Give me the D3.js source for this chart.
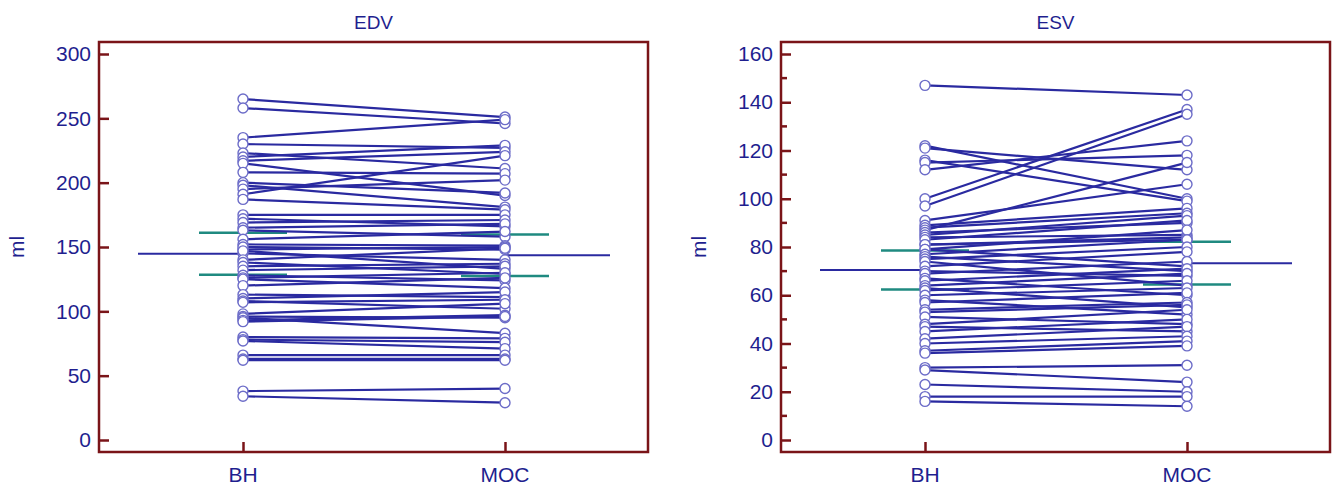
<!DOCTYPE html>
<meta charset="utf-8" />
<script src="https://d3js.org/d3.v7.min.js"></script>
<style>
  body { margin: 0; background: #fff; }
  text { font-family: "Liberation Sans", Arial, sans-serif; fill: #1f1f8f; }
</style>
<div id="chart"></div>
<script>
  // methods compared on the x axis
  const methods = ["BH", "MOC"];

  // end-diastolic volume (ml), one entry per subject
  const edvBH = [265, 258, 235, 230, 223, 220, 217, 215, 208, 200, 198, 195, 191, 187, 175, 172, 169, 165, 163, 156,
    152, 148, 145, 150, 147, 140, 138, 135, 132, 128, 126, 125, 120, 113, 110, 108, 107, 98, 96, 95,
    93, 92, 80, 78, 77, 66, 63, 62, 38, 34];
  const edvMOC = [251, 246, 249, 227, 211, 229, 224, 190, 207, 192, 181, 202, 221, 179, 175, 166, 171, 168, 158, 162,
    151, 150, 140, 148, 133, 149, 129, 137, 135, 124, 130, 118, 126, 111, 115, 102, 109, 106, 95, 83,
    97, 96, 79, 76, 71, 66, 63, 62, 40, 29];

  // end-systolic volume (ml)
  const esvBH = [147, 122, 121, 116, 115, 112, 100, 97, 91, 89, 88, 87, 86, 85, 84, 83, 81, 81, 79, 79,
    77, 76, 75, 74, 72, 70, 69, 67, 66, 64, 63, 62, 60, 58, 57, 54, 53, 51, 48, 47,
    45, 42, 40, 37, 36, 30, 29, 23, 18, 16];
  const esvMOC = [143, 100, 112, 99, 118, 124, 137, 135, 106, 96, 94, 115, 90, 93, 85, 91, 84, 83, 87, 72,
    83, 70, 80, 64, 78, 68, 74, 60, 71, 69, 55, 66, 63, 52, 61, 57, 56, 48, 54, 45,
    50, 47, 43, 41, 39, 31, 24, 20, 18, 14];

  // y axis ticks
  const edvTicks = [0, 50, 100, 150, 200, 250, 300];
  const esvTicks = [0, 20, 40, 60, 80, 100, 120, 140, 160];
  const esvMinor = [10, 30, 50, 70, 90, 110, 130, 150];

  const W = 1340, H = 489;
  const frameTop = 42, frameBottom = 452;
  const lineCol = "#2a2aa0", dotCol = "#6c6cc8", frameCol = "#7a1418", ciCol = "#1f8a80";

  const svg = d3.select("#chart").append("svg")
    .attr("width", W).attr("height", H);

  function panel(opts) {
    const g = svg.append("g");
    const x = d3.scalePoint().domain(methods).range([opts.left + 144, opts.right - 143]);
    const y = d3.scaleLinear().domain([0, opts.max]).range([440, 54]);

    // title and y label
    g.append("text").attr("x", (opts.left + opts.right) / 2).attr("y", 29)
      .attr("text-anchor", "middle").style("font-size", "19px").text(opts.title);
    g.append("text")
      .attr("transform", `translate(${opts.labelX},${(frameTop + frameBottom) / 2}) rotate(-90)`)
      .attr("text-anchor", "middle").style("font-size", "21px").text("ml");

    // y axis: ticks inside the frame
    const yAxis = g.append("g").attr("transform", `translate(${opts.left},0)`)
      .call(d3.axisRight(y).tickValues(opts.ticks).tickSize(10).tickFormat(d3.format("d")));
    yAxis.select(".domain").remove();
    yAxis.selectAll(".tick line").attr("stroke", frameCol).attr("stroke-width", 2.5);
    yAxis.selectAll(".tick text").attr("x", -8).attr("text-anchor", "end")
      .attr("fill", "#1f1f8f").style("font-size", "21px").style("font-family", "Liberation Sans, Arial, sans-serif");
    if (opts.minor) {
      g.append("g").selectAll("line").data(opts.minor).join("line")
        .attr("x1", opts.left).attr("x2", opts.left + 6)
        .attr("y1", d => y(d)).attr("y2", d => y(d))
        .attr("stroke", frameCol).attr("stroke-width", 2.5);
    }

    // x axis: ticks pointing up from bottom
    const xAxis = g.append("g").attr("transform", `translate(0,${frameBottom})`)
      .call(d3.axisTop(x).tickSize(10).tickFormat(""));
    xAxis.select(".domain").remove();
    xAxis.selectAll(".tick line").attr("stroke", frameCol).attr("stroke-width", 2.5);
    g.selectAll(".xlab").data(methods).join("text")
      .attr("x", d => x(d)).attr("y", 482).attr("text-anchor", "middle")
      .style("font-size", "21px").text(d => d);

    // mean and 95% CI for each method
    const sets = [opts.a, opts.b];
    sets.forEach((vals, i) => {
      const m = d3.mean(vals), sd = d3.deviation(vals);
      const half = 2.0096 * sd / Math.sqrt(vals.length);
      const cx = x(methods[i]);
      const dir = i === 0 ? -1 : 1;
      g.append("line").attr("x1", cx).attr("x2", cx)
        .attr("y1", y(m - half)).attr("y2", y(m + half))
        .attr("stroke", ciCol).attr("stroke-width", 2.5);
      [m - half, m + half].forEach(v => {
        g.append("line").attr("x1", cx - 44).attr("x2", cx + 44)
          .attr("y1", y(v)).attr("y2", y(v))
          .attr("stroke", ciCol).attr("stroke-width", 2.5);
      });
      g.append("line").attr("x1", cx).attr("x2", cx + dir * 105)
        .attr("y1", y(m)).attr("y2", y(m))
        .attr("stroke", lineCol).attr("stroke-width", 2);
    });

    // paired lines
    const pairs = opts.a.map((v, i) => [v, opts.b[i]]);
    g.append("g").selectAll("line").data(pairs).join("line")
      .attr("x1", x("BH")).attr("x2", x("MOC"))
      .attr("y1", d => y(d[0])).attr("y2", d => y(d[1]))
      .attr("stroke", lineCol).attr("stroke-width", 2.2);

    // points
    methods.forEach((mth, i) => {
      g.append("g").selectAll("circle").data(sets[i]).join("circle")
        .attr("cx", x(mth)).attr("cy", d => y(d)).attr("r", 5)
        .attr("fill", "#fff").attr("stroke", dotCol).attr("stroke-width", 1.4);
    });

    // frame
    g.append("rect").attr("x", opts.left).attr("y", frameTop)
      .attr("width", opts.right - opts.left).attr("height", frameBottom - frameTop)
      .attr("fill", "none").attr("stroke", frameCol).attr("stroke-width", 2.5);
  }

  panel({ title: "EDV", left: 99, right: 648, labelX: 24, max: 300, ticks: edvTicks, a: edvBH, b: edvMOC });
  panel({ title: "ESV", left: 781, right: 1330, labelX: 706, max: 160, ticks: esvTicks, minor: esvMinor, a: esvBH, b: esvMOC });
</script>
